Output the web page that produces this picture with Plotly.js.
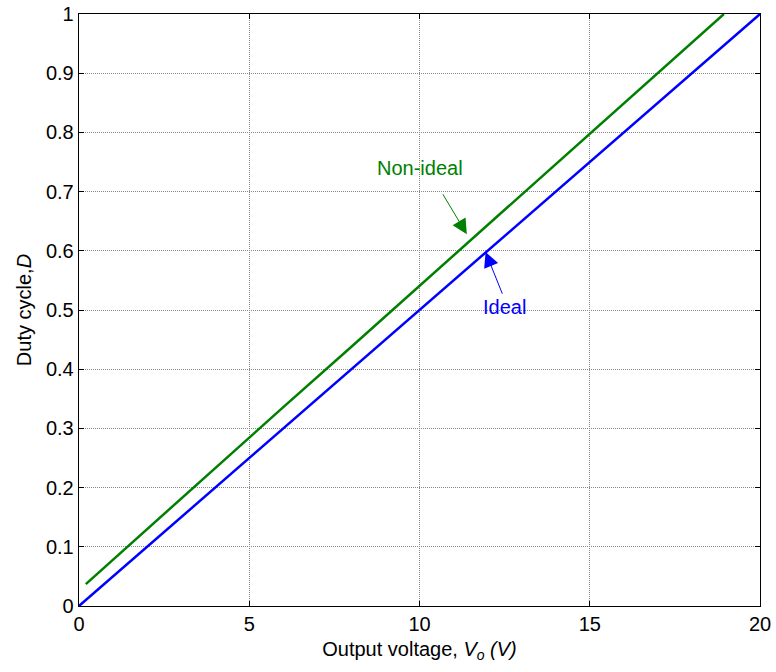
<!DOCTYPE html>
<html>
<head>
<meta charset="utf-8">
<script src="https://cdn.plot.ly/plotly-3.0.1.min.js"></script>
<style>html,body{margin:0;padding:0;background:#fff;}#chart{width:776px;height:672px;}</style>
</head>
<body>
<div id="chart"></div>
<script>
// Data
const idealV = [0, 2, 4, 6, 8, 10, 12, 14, 16, 18, 20];
const idealD = [0, 0.1, 0.2, 0.3, 0.4, 0.5, 0.6, 0.7, 0.8, 0.9, 1.0];
const nonIdealV = [0.2, 2, 4, 6, 8, 10, 12, 14, 16, 18, 18.94];
const nonIdealD = [0.037, 0.130, 0.233, 0.336, 0.438, 0.541, 0.644, 0.746, 0.849, 0.952, 1.0];
const xTicks = [0, 5, 10, 15, 20];
const yTicks = [0, 0.1, 0.2, 0.3, 0.4, 0.5, 0.6, 0.7, 0.8, 0.9, 1];
const yTickText = ['0', '0.1', '0.2', '0.3', '0.4', '0.5', '0.6', '0.7', '0.8', '0.9', '1'];

const font = 'Liberation Sans, Arial, sans-serif';
const fs = 20;

const traces = [
  {x: idealV, y: idealD, mode: 'lines', line: {color: '#0000ff', width: 2.5}, name: 'Ideal', showlegend: false},
  {x: nonIdealV, y: nonIdealD, mode: 'lines', line: {color: '#008000', width: 2.5}, name: 'Non-ideal', showlegend: false}
];

const axisCommon = {
  showline: true, mirror: 'ticks', linecolor: '#000', linewidth: 1.3,
  ticks: 'inside', ticklen: 5, tickcolor: '#000', tickwidth: 1,
  showgrid: true, gridcolor: '#888', griddash: '1px,1px', gridwidth: 1,
  zeroline: false, tickfont: {family: font, size: fs, color: '#000'}
};

const layout = {
  width: 776, height: 672,
  margin: {l: 79, r: 16, t: 14, b: 66},
  paper_bgcolor: '#fff', plot_bgcolor: '#fff',
  font: {family: font, color: '#000'},
  xaxis: Object.assign({}, axisCommon, {
    range: [0, 20], tickvals: xTicks, ticktext: xTicks.map(String),
    title: {text: 'Output voltage, <i>V</i><sub><i>o</i></sub><i> (V)</i>', font: {family: font, size: fs, color: '#000'}, standoff: 7}
  }),
  yaxis: Object.assign({}, axisCommon, {
    range: [0, 1], tickvals: yTicks, ticktext: yTickText,
    title: {text: 'Duty cycle,<i>D</i>', font: {family: font, size: fs, color: '#000'}, standoff: 9}
  }),
  annotations: [
    {x: 10.01, y: 0.74, xref: 'x', yref: 'y', text: 'Non-ideal', showarrow: false,
     font: {family: font, size: fs, color: '#008000'}},
    {x: 11.39, y: 0.628, xref: 'x', yref: 'y', ax: 10.66, ay: 0.698, axref: 'x', ayref: 'y',
     text: '', showarrow: true, arrowhead: 2, arrowsize: 3, arrowwidth: 1, arrowcolor: '#008000'},
    {x: 12.51, y: 0.505, xref: 'x', yref: 'y', text: 'Ideal', showarrow: false,
     font: {family: font, size: fs, color: '#0000ff'}},
    {x: 11.94, y: 0.598, xref: 'x', yref: 'y', ax: 12.45, ay: 0.525, axref: 'x', ayref: 'y',
     text: '', showarrow: true, arrowhead: 2, arrowsize: 3, arrowwidth: 1, arrowcolor: '#0000ff'}
  ]
};

Plotly.newPlot('chart', traces, layout, {displayModeBar: false, staticPlot: true});
</script>
</body>
</html>
